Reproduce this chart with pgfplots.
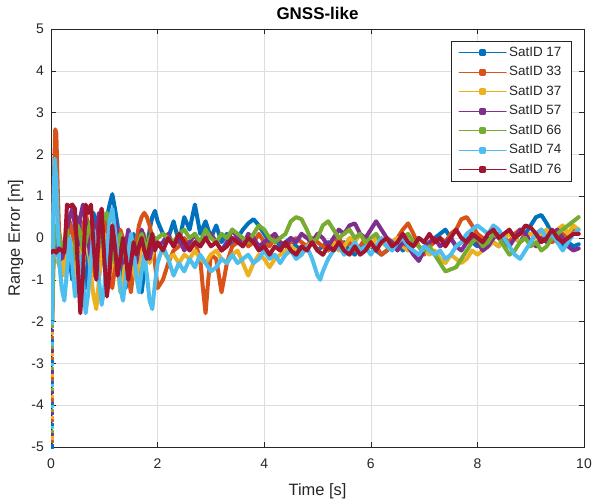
\documentclass[border=0pt]{standalone}
\usepackage{fontspec}
\setmainfont{Liberation Sans}
\usepackage{pgfplots}
\pgfplotsset{compat=1.18}
\definecolor{c17}{rgb}{0,0.447,0.741}
\definecolor{c33}{rgb}{0.85,0.325,0.098}
\definecolor{c37}{rgb}{0.929,0.694,0.125}
\definecolor{c57}{rgb}{0.494,0.184,0.556}
\definecolor{c66}{rgb}{0.466,0.674,0.188}
\definecolor{c74}{rgb}{0.301,0.745,0.933}
\definecolor{c76}{rgb}{0.635,0.078,0.184}
\definecolor{axgray}{gray}{0.15}
\begin{document}
\begin{tikzpicture}
\useasboundingbox (-51bp,-57bp) rectangle (542bp,447bp);
\begin{axis}[
  scale only axis, width=533bp, height=418bp,
  xmin=0, xmax=10, ymin=-5, ymax=5,
  xtick={0,2,...,10}, ytick={-5,-4,...,5},
  grid=major, major grid style={color=black!13, line width=0.5bp},
  axis line style={color=axgray, line width=0.5bp},
  every tick/.style={color=axgray, line width=0.5bp},
  major tick length=5bp,
  tick label style={font=\fontsize{14}{16}\selectfont, text=axgray},
  /pgf/number format/assume math mode=true,
  xticklabel style={anchor=base, yshift=-21bp},
  yticklabel style={anchor=east, inner sep=0pt, xshift=-7bp},
  title={GNSS-like},
  title style={at={(axis description cs:0.5,1.009)}, anchor=base, font=\fontsize{17}{20}\selectfont\bfseries, text=black},
  xlabel={Time [s]},
  xlabel style={at={(axis description cs:0.5,-0.1172)}, anchor=base, font=\fontsize{16.5}{19}\selectfont, text=axgray},
  ylabel={Range Error [m]},
  ylabel style={at={(axis description cs:-0.0582,0.5)}, anchor=base, font=\fontsize{16.5}{19}\selectfont, text=axgray},
  legend style={at={(axis description cs:0.976,0.971)}, anchor=north east, draw=axgray, line width=0.5bp, fill=white,
    font=\fontsize{13.5}{15}\selectfont, text=axgray, inner xsep=7bp, inner ysep=5bp, row sep=7bp,
    nodes={inner ysep=0pt, inner xsep=2.5bp, text height=10bp, text depth=2.5bp}},
  legend cell align=left,
  legend image code/.code={\draw[#1, line width=1bp] (0bp,0bp) -- (47bp,0bp); \fill[#1] (22bp,-1.6bp) rectangle (25.2bp,1.6bp);},
  every axis plot/.append style={line width=4bp, line join=round, line cap=round},
]
% start-up transients (thin, marked)
\addplot[c17, line width=0.6bp, mark=square*, mark size=1.1bp, forget plot] coordinates {(0.02,-5) (0.02,-4.95) (0.02,-4.45) (0.02,-3.95) (0.02,-3.45) (0.02,-2.95) (0.02,-2.45) (0.02,-2)};
\addplot[c33, line width=0.6bp, mark=square*, mark size=1.1bp, forget plot] coordinates {(0.02,-4.87) (0.02,-4.37) (0.02,-3.87) (0.02,-3.37) (0.02,-2.87) (0.02,-2.37)};
\addplot[c37, line width=0.6bp, mark=square*, mark size=1.1bp, forget plot] coordinates {(0.02,-4.78) (0.02,-4.28) (0.02,-3.78) (0.02,-3.28) (0.02,-2.78) (0.02,-2.28)};
\addplot[c57, line width=0.6bp, mark=square*, mark size=1.1bp, forget plot] coordinates {(0.02,-4.70) (0.02,-4.20) (0.02,-3.70) (0.02,-3.20) (0.02,-2.70) (0.02,-2.20)};
\addplot[c66, line width=0.6bp, mark=square*, mark size=1.1bp, forget plot] coordinates {(0.02,-4.62) (0.02,-4.12) (0.02,-3.62) (0.02,-3.12) (0.02,-2.62) (0.02,-2.12)};
\addplot[c74, line width=0.6bp, mark=square*, mark size=1.1bp, forget plot] coordinates {(0.02,-4.53) (0.02,-4.03) (0.02,-3.53) (0.02,-3.03) (0.02,-2.53) (0.02,-2.03)};

% SatID 17
\addplot[color=c17] coordinates {
(0.02,-2.0) (0.05,0.3) (0.1,0.2) (0.15,-0.6) (0.2,-0.9) (0.25,-0.4) (0.3,0.1) (0.35,-0.5) (0.4,-1.0) (0.45,-0.3)
(0.5,0.5) (0.55,0.2) (0.6,-0.7) (0.65,-1.2) (0.7,-0.4) (0.75,0.3) (0.8,0.6) (0.85,-0.2) (0.9,-0.9) (0.95,-0.5)
(1.0,0.1) (1.05,0.5) (1.1,0.8) (1.15,1.05) (1.2,0.7) (1.25,0.3) (1.3,-0.4) (1.35,-0.9) (1.4,-1.2) (1.45,-0.6)
(1.5,-0.2) (1.55,0.1) (1.6,-0.3) (1.65,-0.9) (1.7,-1.3) (1.75,-0.8) (1.8,-0.3) (1.85,0.2) (1.9,0.5) (1.95,0.65) (2.0,0.4)
(2.1,0.1) (2.2,0.0) (2.3,0.4) (2.4,-0.1) (2.5,0.5) (2.6,0.2) (2.7,0.8) (2.8,0.1) (2.9,0.4) (3.0,0.0)
(3.1,0.3) (3.2,-0.1) (3.3,0.1) (3.4,-0.2) (3.5,0.0) (3.6,0.2) (3.7,0.35) (3.8,0.45) (3.9,0.3) (4.0,0.1)
(4.1,-0.1) (4.2,0.0) (4.3,-0.2) (4.4,-0.1) (4.5,0.0) (4.6,-0.2) (4.7,-0.3) (4.8,-0.2) (4.9,-0.1) (5.0,-0.3)
(5.1,-0.2) (5.2,-0.1) (5.3,-0.3) (5.4,-0.2) (5.5,-0.1) (5.6,-0.3) (5.7,-0.4) (5.8,-0.2) (5.9,-0.1) (6.0,-0.2)
(6.1,-0.3) (6.2,-0.4) (6.3,-0.3) (6.4,-0.2) (6.5,-0.1) (6.6,-0.3) (6.7,-0.2) (6.8,-0.1) (6.9,0.0) (7.0,-0.1)
(7.1,-0.2) (7.2,0.0) (7.3,0.1) (7.4,0.2) (7.5,0.0) (7.6,-0.2) (7.7,-0.1) (7.8,0.0) (7.9,-0.1) (8.0,-0.2)
(8.1,-0.1) (8.2,0.0) (8.3,-0.1) (8.4,-0.2) (8.5,0.0) (8.6,0.1) (8.7,0.0) (8.8,-0.1) (8.9,0.1) (9.0,0.3)
(9.1,0.5) (9.2,0.55) (9.3,0.35) (9.4,0.1) (9.5,-0.1) (9.6,-0.2) (9.7,-0.1) (9.8,-0.2) (9.9,-0.15)};
\addlegendentry{SatID 17}

% SatID 33
\addplot[color=c33] coordinates {
(0.02,-2.0) (0.05,1.2) (0.08,2.6) (0.1,2.5) (0.13,1.0) (0.15,0.2) (0.2,-0.3) (0.25,-0.8) (0.3,-0.2) (0.35,0.4) (0.4,0.2) (0.45,-0.5)
(0.5,-1.1) (0.55,-0.6) (0.6,0.2) (0.65,0.6) (0.7,0.3) (0.75,-0.3) (0.8,-0.9) (0.85,-0.4) (0.9,0.3) (0.95,0.7)
(1.0,0.4) (1.05,-0.2) (1.1,-0.8) (1.15,-1.2) (1.2,-0.7) (1.25,-0.2) (1.3,0.2) (1.35,0.0) (1.4,-0.4) (1.45,-0.9)
(1.5,-1.3) (1.55,-0.7) (1.6,-0.1) (1.65,0.3) (1.7,0.5) (1.75,0.6) (1.8,0.5) (1.85,0.3) (1.9,0.0) (1.95,-0.6) (2.0,-1.2)
(2.1,-1.0) (2.2,-0.6) (2.3,-0.3) (2.4,-0.2) (2.5,0.0) (2.6,-0.2) (2.7,-0.1) (2.8,-0.5) (2.85,-1.2) (2.9,-1.8) (2.95,-1.0) (3.0,-0.4)
(3.1,-0.5) (3.2,-1.3) (3.3,-0.6) (3.4,-0.2) (3.5,-0.1) (3.6,0.0) (3.7,-0.2) (3.8,-0.1) (3.9,0.1) (4.0,-0.1)
(4.1,-0.2) (4.2,0.0) (4.3,-0.1) (4.4,-0.2) (4.5,-0.1) (4.6,0.0) (4.7,-0.1) (4.8,-0.2) (4.9,0.0) (5.0,-0.1)
(5.1,-0.2) (5.2,-0.3) (5.3,-0.1) (5.4,0.0) (5.5,-0.2) (5.6,-0.1) (5.7,-0.3) (5.8,-0.2) (5.9,0.0) (6.0,-0.1)
(6.1,-0.2) (6.2,-0.4) (6.3,-0.3) (6.4,-0.1) (6.5,0.0) (6.6,0.2) (6.7,0.35) (6.8,0.1) (6.9,-0.2) (7.0,-0.4)
(7.1,-0.2) (7.2,-0.1) (7.3,0.0) (7.4,-0.1) (7.5,0.1) (7.6,0.2) (7.7,0.45) (7.8,0.5) (7.9,0.3) (8.0,0.1)
(8.1,0.0) (8.2,-0.1) (8.3,0.0) (8.4,0.1) (8.5,0.0) (8.6,-0.1) (8.7,0.1) (8.8,0.2) (8.9,0.0) (9.0,-0.1)
(9.1,0.1) (9.2,0.2) (9.3,0.0) (9.4,-0.1) (9.5,0.0) (9.6,0.1) (9.7,0.0) (9.8,0.2) (9.9,0.1)};
\addlegendentry{SatID 33}

% SatID 37
\addplot[color=c37] coordinates {
(0.02,-2.0) (0.05,-0.6) (0.1,-0.55) (0.15,-0.6) (0.2,-0.5) (0.25,-0.9) (0.3,-0.4) (0.35,0.0) (0.4,-0.3) (0.45,-0.8)
(0.5,-1.2) (0.55,-0.7) (0.6,-0.1) (0.65,0.3) (0.7,-0.2) (0.75,-0.9) (0.8,-1.4) (0.85,-1.7) (0.9,-1.0) (0.95,-0.3)
(1.0,0.1) (1.05,-0.4) (1.1,-0.9) (1.15,-0.6) (1.2,-0.2) (1.25,-0.7) (1.3,-1.3) (1.35,-1.0) (1.4,-0.5) (1.45,-0.1)
(1.5,-0.3) (1.55,-0.8) (1.6,-1.0) (1.65,-0.6) (1.7,-0.2) (1.75,0.1) (1.8,-0.2) (1.85,-0.6) (1.9,-0.4) (1.95,-0.2) (2.0,-0.1)
(2.1,-0.3) (2.2,-0.5) (2.3,-0.4) (2.4,-0.6) (2.5,-0.4) (2.6,-0.5) (2.7,-0.3) (2.8,-0.5) (2.9,-0.6) (3.0,-0.4)
(3.1,-0.3) (3.2,-0.5) (3.3,-0.6) (3.4,-0.4) (3.5,-0.3) (3.6,-0.6) (3.7,-0.9) (3.8,-0.6) (3.9,-0.4) (4.0,-0.5)
(4.1,-0.7) (4.2,-0.5) (4.3,-0.4) (4.4,-0.3) (4.5,-0.2) (4.6,-0.3) (4.7,-0.4) (4.8,-0.2) (4.9,-0.1) (5.0,-0.3)
(5.1,-0.4) (5.2,-0.2) (5.3,-0.1) (5.4,-0.3) (5.5,-0.2) (5.6,0.0) (5.7,-0.1) (5.8,0.1) (5.9,-0.1) (6.0,-0.2)
(6.1,0.0) (6.2,-0.1) (6.3,-0.2) (6.4,-0.1) (6.5,0.0) (6.6,-0.2) (6.7,-0.3) (6.8,-0.1) (6.9,-0.2) (7.0,-0.3)
(7.1,-0.4) (7.2,-0.3) (7.3,-0.5) (7.4,-0.6) (7.5,-0.4) (7.6,-0.5) (7.7,-0.6) (7.8,-0.5) (7.9,-0.3) (8.0,-0.4)
(8.1,-0.3) (8.2,-0.2) (8.3,-0.1) (8.4,-0.2) (8.5,0.0) (8.6,0.1) (8.7,0.0) (8.8,-0.1) (8.9,0.0) (9.0,0.1)
(9.1,0.0) (9.2,0.1) (9.3,0.2) (9.4,0.0) (9.5,0.2) (9.6,0.3) (9.7,0.1) (9.8,0.3) (9.9,0.2)};
\addlegendentry{SatID 37}

% SatID 57
\addplot[color=c57] coordinates {
(0.02,-2.0) (0.03,-1.0) (0.05,-0.3) (0.1,0.1) (0.15,-0.2) (0.2,-0.5) (0.25,-0.3) (0.3,0.2) (0.35,0.5) (0.4,0.7) (0.45,0.3)
(0.5,-0.2) (0.55,0.5) (0.6,0.8) (0.65,0.4) (0.7,-0.1) (0.75,-0.5) (0.8,-0.2) (0.85,0.3) (0.9,0.6) (0.95,0.2)
(1.0,-0.3) (1.05,-0.7) (1.1,-0.4) (1.15,0.1) (1.2,0.4) (1.25,0.1) (1.3,-0.3) (1.35,-0.6) (1.4,-0.2) (1.45,0.2)
(1.5,0.0) (1.55,-0.4) (1.6,-0.6) (1.65,-0.2) (1.7,0.2) (1.75,0.0) (1.8,-0.3) (1.85,-0.5) (1.9,-0.2) (1.95,0.0) (2.0,-0.2)
(2.1,-0.1) (2.2,0.1) (2.3,-0.2) (2.4,0.0) (2.5,-0.3) (2.6,-0.1) (2.7,0.1) (2.8,-0.2) (2.9,0.0) (3.0,0.1)
(3.1,-0.1) (3.2,-0.3) (3.3,-0.1) (3.4,0.2) (3.5,0.0) (3.6,-0.2) (3.7,0.1) (3.8,0.0) (3.9,-0.2) (4.0,-0.1)
(4.1,0.0) (4.2,0.1) (4.3,-0.1) (4.4,-0.2) (4.5,0.0) (4.6,-0.1) (4.7,0.1) (4.8,0.0) (4.9,-0.1) (5.0,0.1)
(5.1,0.0) (5.2,-0.2) (5.3,0.0) (5.4,0.2) (5.5,0.1) (5.6,0.3) (5.7,0.35) (5.8,0.1) (5.9,0.0) (6.0,0.2)
(6.1,0.4) (6.2,0.2) (6.3,0.0) (6.4,-0.1) (6.5,-0.3) (6.6,-0.1) (6.7,-0.2) (6.8,-0.4) (6.9,-0.55) (7.0,-0.3)
(7.1,-0.1) (7.2,0.0) (7.3,-0.2) (7.4,-0.1) (7.5,0.0) (7.6,-0.2) (7.7,-0.3) (7.8,-0.1) (7.9,0.0) (8.0,-0.1)
(8.1,-0.3) (8.2,-0.2) (8.3,0.0) (8.4,0.1) (8.5,-0.1) (8.6,-0.2) (8.7,0.0) (8.8,0.2) (8.9,0.1) (9.0,-0.1)
(9.1,-0.2) (9.2,0.0) (9.3,-0.1) (9.4,0.1) (9.5,0.2) (9.6,0.0) (9.7,-0.2) (9.8,-0.3) (9.9,-0.25)};
\addlegendentry{SatID 57}

% SatID 66
\addplot[color=c66] coordinates {
(0.02,-2.0) (0.05,-0.2) (0.1,0.3) (0.15,0.1) (0.2,-0.3) (0.25,-0.1) (0.3,0.2) (0.35,-0.2) (0.4,-0.6) (0.45,-0.2)
(0.5,0.3) (0.55,0.1) (0.6,-0.3) (0.65,-0.1) (0.7,0.2) (0.75,0.4) (0.8,0.0) (0.85,-0.5) (0.9,-0.2) (0.95,0.3)
(1.0,0.5) (1.05,0.6) (1.1,0.2) (1.15,-0.3) (1.2,-0.6) (1.25,-0.2) (1.3,0.1) (1.35,-0.1) (1.4,-0.5) (1.45,-0.3)
(1.5,0.0) (1.55,-0.2) (1.6,-0.4) (1.65,-0.1) (1.7,0.1) (1.75,-0.1) (1.8,-0.3) (1.85,0.0) (1.9,0.1) (1.95,-0.1) (2.0,0.0)
(2.1,0.1) (2.2,0.0) (2.3,-0.1) (2.4,0.1) (2.5,0.2) (2.6,0.0) (2.7,0.1) (2.8,-0.1) (2.9,0.2) (3.0,0.0)
(3.1,-0.1) (3.2,0.1) (3.3,0.0) (3.4,0.2) (3.5,0.1) (3.6,0.0) (3.7,-0.1) (3.8,0.1) (3.9,0.3) (4.0,0.2)
(4.1,0.0) (4.2,-0.1) (4.3,0.0) (4.4,0.1) (4.5,0.4) (4.6,0.5) (4.7,0.45) (4.8,0.2) (4.9,-0.1) (5.0,0.0)
(5.1,0.3) (5.2,0.4) (5.3,0.2) (5.4,0.0) (5.5,0.1) (5.6,0.2) (5.7,0.0) (5.8,0.1) (5.9,-0.1) (6.0,0.0)
(6.1,0.1) (6.2,-0.1) (6.3,0.0) (6.4,-0.2) (6.5,-0.1) (6.6,0.0) (6.7,0.1) (6.8,-0.1) (6.9,-0.2) (7.0,-0.3)
(7.1,-0.2) (7.2,-0.4) (7.3,-0.6) (7.4,-0.8) (7.5,-0.75) (7.6,-0.7) (7.7,-0.5) (7.8,-0.3) (7.9,-0.1) (8.0,0.0)
(8.1,-0.2) (8.2,-0.1) (8.3,0.1) (8.4,0.0) (8.5,-0.2) (8.6,-0.4) (8.7,-0.3) (8.8,-0.1) (8.9,0.0) (9.0,-0.2)
(9.1,-0.1) (9.2,-0.3) (9.3,-0.2) (9.4,0.0) (9.5,0.1) (9.6,0.2) (9.7,0.3) (9.8,0.4) (9.9,0.5)};
\addlegendentry{SatID 66}

% SatID 74
\addplot[color=c74] coordinates {
(0.02,-2.0) (0.04,0.5) (0.07,1.9) (0.1,1.4) (0.13,0.2) (0.15,-0.5) (0.2,-1.2) (0.25,-1.5) (0.3,-0.8) (0.35,0.0) (0.4,-0.6) (0.45,-1.4)
(0.5,-1.1) (0.55,-0.4) (0.6,-1.0) (0.65,-1.8) (0.7,-1.3) (0.75,-0.5) (0.8,0.2) (0.85,-0.3) (0.9,-1.0) (0.95,-1.6)
(1.0,-1.2) (1.05,-0.3) (1.1,0.4) (1.15,0.7) (1.2,0.2) (1.25,-0.5) (1.3,-1.2) (1.35,-1.5) (1.4,-1.0) (1.45,-0.4)
(1.5,0.1) (1.55,-0.3) (1.6,-0.9) (1.65,-1.3) (1.7,-0.8) (1.75,-0.4) (1.8,-0.9) (1.85,-1.5) (1.9,-1.7) (1.95,-1.1) (2.0,-0.6)
(2.1,-0.2) (2.2,-0.5) (2.3,-0.9) (2.4,-0.6) (2.5,-0.8) (2.6,-0.5) (2.7,-0.7) (2.8,-0.4) (2.9,-0.6) (3.0,-0.8)
(3.1,-0.7) (3.2,-0.5) (3.3,-0.6) (3.4,-0.4) (3.5,-0.6) (3.6,-0.5) (3.7,-0.4) (3.8,-0.6) (3.9,-0.5) (4.0,-0.3)
(4.1,-0.5) (4.2,-0.4) (4.3,-0.6) (4.4,-0.4) (4.5,-0.3) (4.6,-0.5) (4.7,-0.4) (4.8,-0.2) (4.9,-0.5) (5.0,-0.9)
(5.05,-1.0) (5.1,-0.8) (5.2,-0.5) (5.3,-0.3) (5.4,-0.2) (5.5,-0.4) (5.6,-0.3) (5.7,-0.1) (5.8,-0.3) (5.9,-0.2) (6.0,-0.4)
(6.1,-0.2) (6.2,0.0) (6.3,-0.2) (6.4,-0.3) (6.5,-0.1) (6.6,0.0) (6.7,-0.2) (6.8,-0.3) (6.9,-0.4) (7.0,-0.2)
(7.1,-0.3) (7.2,-0.4) (7.3,-0.3) (7.4,-0.5) (7.5,-0.4) (7.6,-0.2) (7.7,-0.1) (7.8,0.1) (7.9,0.2) (8.0,0.3)
(8.1,0.2) (8.2,0.1) (8.3,0.3) (8.4,0.2) (8.5,0.0) (8.6,-0.2) (8.7,-0.4) (8.8,-0.5) (8.9,-0.3) (9.0,-0.1)
(9.1,0.1) (9.2,0.2) (9.3,0.0) (9.4,0.1) (9.5,-0.1) (9.6,-0.3) (9.7,-0.1) (9.8,0.1) (9.9,0.2)};
\addlegendentry{SatID 74}

% SatID 76
\addplot[color=c76] coordinates {
(0.0,-0.35) (0.05,-0.3) (0.1,-0.35) (0.15,-0.25) (0.2,-0.3) (0.25,-0.35) (0.28,0.3) (0.3,0.8) (0.35,0.75) (0.4,0.8) (0.45,0.7)
(0.5,-0.6) (0.55,-1.8) (0.6,-0.9) (0.65,0.8) (0.7,0.6) (0.75,0.8) (0.8,-0.2) (0.85,-1.0) (0.9,0.2) (0.95,0.7)
(1.0,-0.5) (1.05,-1.4) (1.1,-0.8) (1.15,0.3) (1.2,-0.2) (1.25,-0.9) (1.3,-0.5) (1.35,0.0) (1.4,-0.4) (1.45,-1.0)
(1.5,-0.6) (1.55,-0.1) (1.6,-0.4) (1.65,-0.2) (1.7,0.0) (1.75,-0.3) (1.8,-0.5) (1.85,-0.2) (1.9,0.1) (1.95,-0.3) (2.0,-0.1)
(2.1,-0.3) (2.2,0.0) (2.3,-0.2) (2.4,0.1) (2.5,-0.1) (2.6,-0.3) (2.7,-0.1) (2.8,-0.2) (2.9,0.0) (3.0,-0.2)
(3.1,-0.1) (3.2,-0.3) (3.3,-0.2) (3.4,0.0) (3.5,-0.1) (3.6,-0.2) (3.7,0.0) (3.8,-0.1) (3.9,-0.3) (4.0,-0.2)
(4.1,-0.4) (4.2,-0.2) (4.3,-0.3) (4.4,-0.1) (4.5,-0.3) (4.6,-0.4) (4.7,-0.2) (4.8,-0.3) (4.9,-0.1) (5.0,-0.3)
(5.1,-0.4) (5.2,-0.2) (5.3,-0.3) (5.4,-0.1) (5.5,-0.3) (5.6,-0.4) (5.7,-0.2) (5.8,-0.4) (5.9,-0.3) (6.0,-0.1)
(6.1,-0.3) (6.2,-0.1) (6.3,0.0) (6.4,-0.2) (6.5,-0.1) (6.6,0.1) (6.7,-0.1) (6.8,-0.2) (6.9,0.0) (7.0,-0.1)
(7.1,0.1) (7.2,-0.1) (7.3,0.0) (7.4,-0.2) (7.5,0.0) (7.6,0.2) (7.7,0.0) (7.8,-0.1) (7.9,0.1) (8.0,0.0)
(8.1,-0.1) (8.2,0.1) (8.3,0.2) (8.4,0.0) (8.5,0.1) (8.6,0.2) (8.7,0.0) (8.8,0.1) (8.9,0.3) (9.0,0.25)
(9.1,0.1) (9.2,-0.1) (9.3,0.0) (9.4,0.2) (9.5,0.0) (9.6,-0.1) (9.7,0.0) (9.8,0.1) (9.9,0.1)};
\addlegendentry{SatID 76}
\end{axis}
\end{tikzpicture}
\end{document}
